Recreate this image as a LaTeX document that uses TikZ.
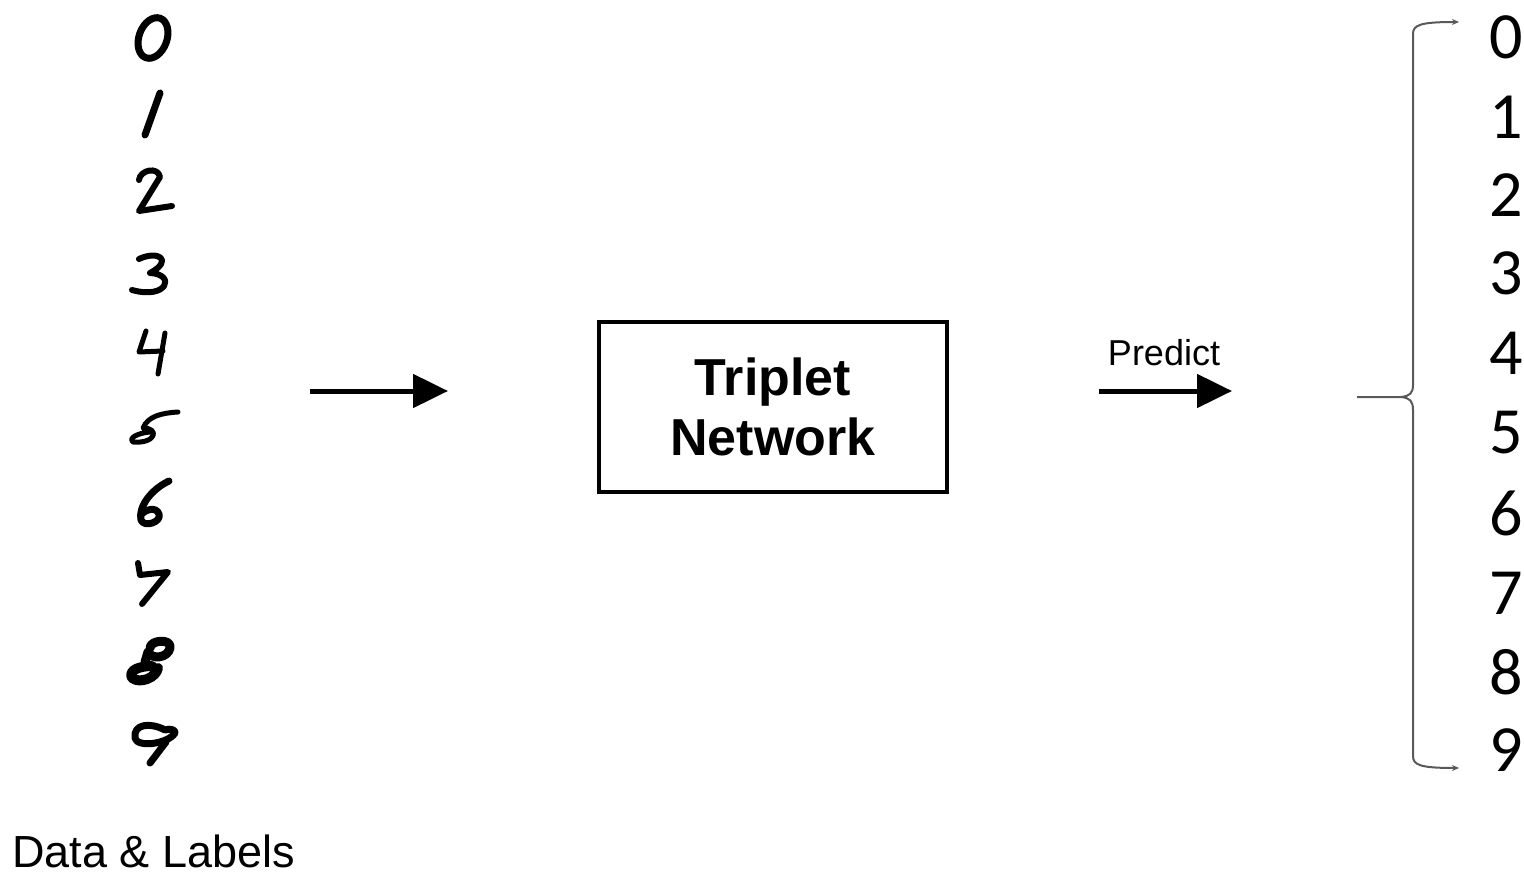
\documentclass[tikz,border=0pt]{standalone}
\usepackage{fontspec}
\setmainfont{Liberation Sans}
\newfontfamily\calib{Carlito}
\usetikzlibrary{arrows.meta}
\tikzset{
  pen/.style={line width=6pt, line cap=round, line join=round, black},
  bigarrow/.style={line width=5pt, -{Triangle[length=35pt,width=33pt]}},
  bracepath/.style={line width=2pt, draw=black!65},
  classlbl/.style={font=\calib\fontsize{66}{66}\selectfont, anchor=center, inner sep=0pt},
  netbox/.style={draw, line width=4pt, minimum width=348pt, minimum height=170pt,
    align=center, font=\bfseries\fontsize{52}{60}\selectfont},
}
\begin{document}
\begin{tikzpicture}[x=1pt,y=-1pt]
\useasboundingbox (0,0) rectangle (1524,877);

% handwritten input digits
% 0
\draw[pen, line width=7pt] (153,38) ellipse[x radius=14, y radius=21, rotate=-20];
% 1
\draw[pen, line width=7pt] (160,93) -- (145,135);
% 2
\draw[pen] (139,180) .. controls (140,170) and (158,166) .. (160,177)
  -- (139,211) -- (172,206);
% 3
\draw[pen] (139,259) .. controls (158,250) and (174,260) .. (150,273)
  .. controls (176,274) and (168,300) .. (132,290);
% 4
\draw[pen, line width=5pt] (146,331) -- (139,352) -- (163,351);
\draw[pen, line width=5pt] (165,333) -- (158,374);
% 5
\draw[pen, line width=5pt] (178,412) .. controls (162,413) and (148,416) .. (143,428)
  .. controls (160,428) and (156,444) .. (133,442) .. controls (128,438) and (138,433) .. (150,432);
% 6
\draw[pen, line width=7pt] (169,481) .. controls (150,490) and (138,508) .. (141,520)
  .. controls (144,528) and (162,522) .. (159,514) .. controls (156,506) and (145,510) .. (142,514);
% 7
\draw[pen] (138,563) -- (140,575) -- (168,572) -- (142,604);
% 8
\draw[pen, line width=9pt] (150,648) .. controls (150,640) and (172,638) .. (170,648)
  .. controls (168,658) and (152,660) .. (148,652) -- (145,662);
\draw[pen, line width=10pt] (152,666) .. controls (140,666) and (128,670) .. (132,678)
  .. controls (140,684) and (156,678) .. (158,668);
% 9
\draw[pen, line width=7pt] (165,730) .. controls (150,722) and (133,724) .. (135,738)
  .. controls (137,748) and (168,744) .. (175,733) .. controls (176,730) and (170,728) .. (165,730);
\draw[pen, line width=7pt] (166,742) -- (150,763);

\node[anchor=base west, font=\fontsize{45}{45}\selectfont, inner sep=0pt] (datalbl) at (12,867) {Data \& Labels};

% network
\coordinate (inA) at (310,391);
\coordinate (inB) at (448,391);
\draw[bigarrow] (inA) -- (inB);

\node[netbox] (net) at (773,407) {Triplet\\Network};

\coordinate (outA) at (1099,391);
\coordinate (outB) at (1232,391);
\draw[bigarrow] (outA) -- (outB);
\node[font=\fontsize{36}{36}\selectfont, inner sep=0pt] (predict) at (1164,353) {Predict};

% output classes
\foreach \d/\y in {0/37,1/117,2/195,3/273,4/353,5/433,6/513,7/593,8/672,9/750}
  \node[classlbl] (c\d) at (1506,\y) {\d};

% brace fanning out to the classes
\coordinate (bin) at (1357,397);
\coordinate (btop) at (1459,22);
\coordinate (bbot) at (1459,768);
\draw[bracepath, -{Stealth[length=7pt,width=6pt]}] (bin) -- (1401,397)
  .. controls (1410,396) and (1413,393) .. (1413,385) -- (1413,34)
  .. controls (1413,25) and (1420,22) .. (btop);
\draw[bracepath, -{Stealth[length=7pt,width=6pt]}] (1401,397)
  .. controls (1410,398) and (1413,401) .. (1413,410) -- (1413,756)
  .. controls (1413,765) and (1420,768) .. (bbot);
\end{tikzpicture}
\end{document}
